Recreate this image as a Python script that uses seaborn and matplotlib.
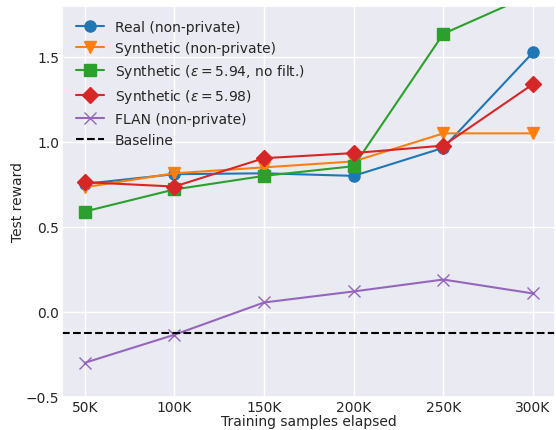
import numpy as np
import pandas as pd
import seaborn as sns
import matplotlib
matplotlib.use("Agg")
import matplotlib.pyplot as plt

# data
samples = [50000, 100000, 150000, 200000, 250000, 300000]
tick_labels = ["50K", "100K", "150K", "200K", "250K", "300K"]

real = [0.753, 0.81, 0.815, 0.80, 0.965, 1.526]
synth = [0.733, 0.815, 0.85, 0.885, 1.05, 1.05]
synth_nofilt = [0.59, 0.72, 0.80, 0.857, 1.636, 1.87]
synth_dp = [0.763, 0.737, 0.904, 0.934, 0.978, 1.34]
flan = [-0.30, -0.135, 0.055, 0.12, 0.19, 0.108]
baseline = -0.125

sns.set_theme(style="darkgrid")
plt.rcParams["font.family"] = ["DejaVu Sans"]
plt.rcParams["font.size"] = 10
plt.rcParams["axes.labelsize"] = 10
plt.rcParams["xtick.labelsize"] = 10
plt.rcParams["ytick.labelsize"] = 10
plt.rcParams["legend.fontsize"] = 10

fig, ax = plt.subplots(figsize=(5.56, 4.31), dpi=100)
fig.subplots_adjust(left=0.112, right=0.999, top=0.984, bottom=0.077)

series = [
    ("Real (non-private)", real, "o"),
    ("Synthetic (non-private)", synth, "v"),
    (r"Synthetic ($\varepsilon = 5.94$, no filt.)", synth_nofilt, "s"),
    (r"Synthetic ($\varepsilon = 5.98$)", synth_dp, "D"),
    ("FLAN (non-private)", flan, "x"),
]
pal = sns.color_palette("tab10")
for i, (name, vals, mk) in enumerate(series):
    df = pd.DataFrame({"samples": samples, "reward": vals})
    sns.lineplot(data=df, x="samples", y="reward", marker=mk, color=pal[i],
                 markersize=8, linewidth=1.5, markeredgecolor=pal[i],
                 markeredgewidth=1, label=name, ax=ax)

ax.axhline(baseline, color="black", linestyle="--", linewidth=1.5, label="Baseline")

ax.set_xticks(samples)
ax.set_xticklabels(tick_labels)
ax.set_ylim(-0.5, 1.8)
ax.set_yticks([-0.5, 0.0, 0.5, 1.0, 1.5])
ax.set_xlabel("Training samples elapsed", labelpad=0)
ax.set_ylabel("Test reward", labelpad=1)
ax.tick_params(axis="both", length=0, pad=2)
ax.legend(loc="upper left", frameon=False, borderaxespad=0.6)

fig.savefig("out.png")
